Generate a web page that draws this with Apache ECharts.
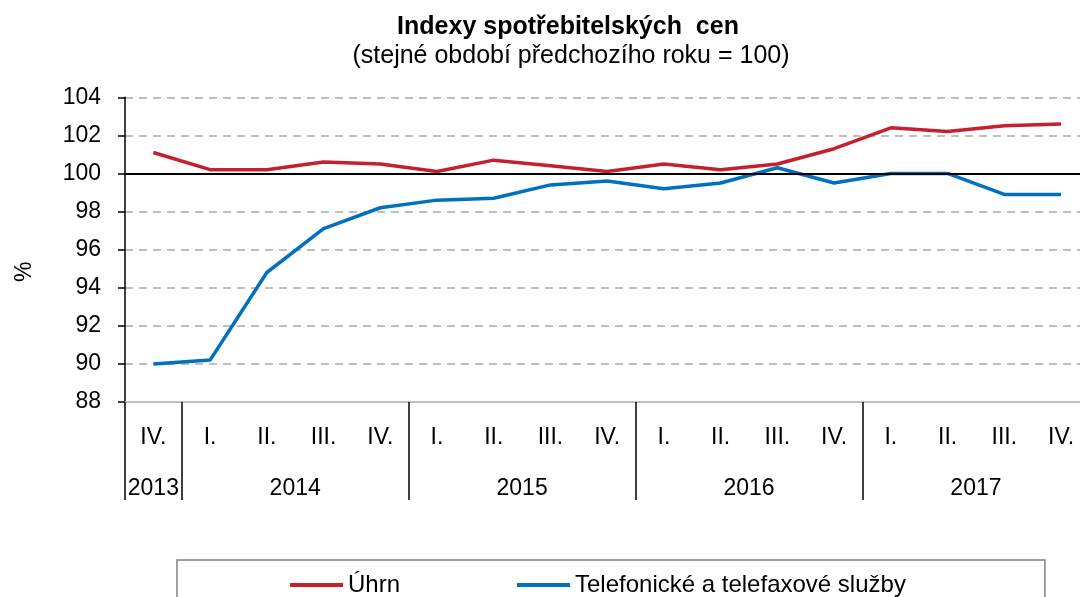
<!DOCTYPE html>
<html>
<head>
<meta charset="utf-8">
<script src="https://cdn.jsdelivr.net/npm/echarts@6/dist/echarts.min.js"></script>
<style>html,body{margin:0;padding:0;background:#fff}#c{width:1080px;height:597px}</style>
</head>
<body>
<div id="c"></div>
<script>
// ---- data ----
const quarterLabels = ['IV.','I.','II.','III.','IV.','I.','II.','III.','IV.','I.','II.','III.','IV.','I.','II.','III.','IV.'];
const yearOfCategory = ['2013','2014','2014','2014','2014','2015','2015','2015','2015','2016','2016','2016','2016','2017','2017','2017','2017'];
const uhrn = [101.1,100.2,100.2,100.6,100.5,100.1,100.7,100.4,100.1,100.5,100.2,100.5,101.3,102.4,102.2,102.5,102.6];
const telefon = [90.0,90.2,94.8,97.1,98.2,98.6,98.7,99.4,99.6,99.2,99.5,100.3,99.5,100.0,100.0,98.9,98.9];
const seriesNames = ['Úhrn','Telefonické a telefaxové služby'];
const yTicks = {min: 88, max: 104, interval: 2};

// year groups derived from categories
const groupStarts = [], groupCenters = [], groupNames = [];
yearOfCategory.forEach((y, i) => {
  if (i === 0 || yearOfCategory[i-1] !== y) { groupStarts.push(i); groupNames.push(y); }
});
groupStarts.forEach((s, k) => {
  const e = k + 1 < groupStarts.length ? groupStarts[k+1] : yearOfCategory.length;
  groupCenters.push((s + e) / 2);
});

const FONT = 'Liberation Sans, Arial, sans-serif';
const chart = echarts.init(document.getElementById('c'), null, {renderer: 'canvas'});
chart.setOption({
  animation: false,
  backgroundColor: '#ffffff',
  title: [
    {text: 'Indexy spotřebitelských  cen', left: 563, top: 10, textAlign: 'center',
     textStyle: {fontFamily: FONT, fontSize: 25, fontWeight: 'bold', color: '#000'}},
    {text: '(stejné období předchozího roku = 100)', left: 566, top: 39, textAlign: 'center',
     textStyle: {fontFamily: FONT, fontSize: 25, fontWeight: 'normal', color: '#000'}}
  ],
  legend: {
    left: 177, top: 560,
    padding: [13, 139, 20, 113],
    itemGap: 117, itemWidth: 53, itemHeight: 4,
    icon: 'rect',
    borderColor: '#808080', borderWidth: 1.5,
    textStyle: {fontFamily: FONT, fontSize: 24, color: '#000'},
    data: seriesNames
  },
  grid: {left: 125, top: 97.3, width: 964.4, bottom: 195, containLabel: false, outerBoundsMode: 'none'},
  xAxis: [
    {type: 'category', data: quarterLabels, boundaryGap: true,
     axisLine: {show: true, lineStyle: {color: '#c0c0c0', width: 2}},
     axisTick: {show: false},
     axisLabel: {fontFamily: FONT, fontSize: 23, color: '#000', margin: 24, interval: 0}},
    {type: 'value', min: 0, max: yearOfCategory.length, position: 'bottom',
     axisLine: {show: false}, splitLine: {show: false},
     axisTick: {show: true, customValues: [0].concat(groupStarts.slice(1)), length: 98, inside: false,
                lineStyle: {color: '#000', width: 1.5}},
     axisLabel: {show: true, customValues: groupCenters, margin: 75,
                 fontFamily: FONT, fontSize: 23, color: '#000',
                 formatter: v => groupNames[groupCenters.indexOf(v)]}}
  ],
  yAxis: {
    type: 'value', min: yTicks.min, max: yTicks.max, interval: yTicks.interval,
    name: '%', nameLocation: 'middle', nameGap: 89, nameRotate: 90,
    nameTextStyle: {fontFamily: FONT, fontSize: 23, color: '#000', padding: [0, 44, 0, 0]},
    axisLine: {show: true, lineStyle: {color: '#000', width: 1.5}},
    axisTick: {show: true, length: 7, lineStyle: {color: '#000', width: 1.5}},
    axisLabel: {fontFamily: FONT, fontSize: 23, color: '#000', margin: 24},
    splitLine: {show: true, lineStyle: {color: '#c0c0c0', width: 2, type: [8, 6]}}
  },
  series: [
    {name: seriesNames[0], type: 'line', data: uhrn, xAxisIndex: 0, symbol: 'none',
     lineStyle: {color: '#C4202E', width: 3.5}, itemStyle: {color: '#C4202E'},
     markLine: {silent: true, symbol: 'none', label: {show: false},
                lineStyle: {color: '#000', width: 2, type: 'solid'},
                data: [{yAxis: 100}]}},
    {name: seriesNames[1], type: 'line', data: telefon, xAxisIndex: 0, symbol: 'none',
     lineStyle: {color: '#0070C0', width: 3.5}, itemStyle: {color: '#0070C0'}}
  ]
});
</script>
</body>
</html>
